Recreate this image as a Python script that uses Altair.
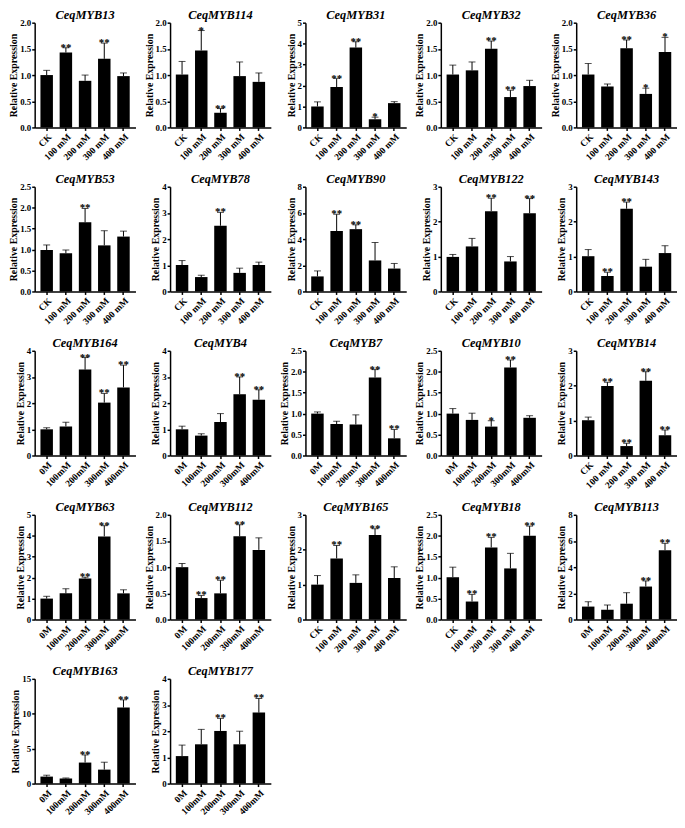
import altair as alt
import pandas as pd

labels_spaced = ["CK", "100 mM", "200 mM", "300 mM", "400 mM"]
labels_compact = ["0M", "100mM", "200mM", "300mM", "400mM"]

genes = ["CeqMYB13", "CeqMYB114", "CeqMYB31", "CeqMYB32", "CeqMYB36",
         "CeqMYB53", "CeqMYB78", "CeqMYB90", "CeqMYB122", "CeqMYB143",
         "CeqMYB164", "CeqMYB4", "CeqMYB7", "CeqMYB10", "CeqMYB14",
         "CeqMYB63", "CeqMYB112", "CeqMYB165", "CeqMYB18", "CeqMYB113",
         "CeqMYB163", "CeqMYB177"]
y_max = [2.0, 2.0, 5, 2.0, 2.0,
         2.5, 4, 8, 3, 3,
         4, 4, 2.5, 2.5, 3,
         5, 2.0, 3, 2.5, 8,
         15, 4]
y_step = [0.5, 0.5, 1, 0.5, 0.5,
          0.5, 1, 2, 1, 1,
          1, 1, 0.5, 0.5, 1,
          1, 0.5, 1, 0.5, 2,
          5, 1]
label_kind = ["s", "s", "s", "s", "s",
              "s", "s", "s", "s", "s",
              "c", "c", "c", "c", "s",
              "c", "c", "s", "s", "c",
              "c", "c"]

mean_MYB13 = [1.00, 1.43, 0.89, 1.31, 0.98]
sd_MYB13 = [0.09, 0.09, 0.11, 0.30, 0.06]
sig_MYB13 = ["", "**", "", "**", ""]

mean_MYB114 = [1.01, 1.47, 0.28, 0.98, 0.87]
sd_MYB114 = [0.25, 0.38, 0.08, 0.27, 0.17]
sig_MYB114 = ["", "*", "**", "", ""]

mean_MYB31 = [1.00, 1.93, 3.81, 0.39, 1.16]
sd_MYB31 = [0.22, 0.40, 0.28, 0.10, 0.07]
sig_MYB31 = ["", "**", "**", "*", ""]

mean_MYB32 = [1.01, 1.09, 1.50, 0.58, 0.79]
sd_MYB32 = [0.18, 0.16, 0.15, 0.13, 0.11]
sig_MYB32 = ["", "", "**", "**", ""]

mean_MYB36 = [1.01, 0.78, 1.51, 0.64, 1.44]
sd_MYB36 = [0.21, 0.05, 0.16, 0.11, 0.28]
sig_MYB36 = ["", "", "**", "*", "*"]

mean_MYB53 = [0.99, 0.91, 1.65, 1.10, 1.31]
sd_MYB53 = [0.12, 0.08, 0.33, 0.35, 0.13]
sig_MYB53 = ["", "", "**", "", ""]

mean_MYB78 = [1.01, 0.55, 2.51, 0.71, 1.01]
sd_MYB78 = [0.17, 0.07, 0.51, 0.18, 0.11]
sig_MYB78 = ["", "", "**", "", ""]

mean_MYB90 = [1.15, 4.61, 4.76, 2.37, 1.75]
sd_MYB90 = [0.42, 1.28, 0.33, 1.37, 0.39]
sig_MYB90 = ["", "**", "**", "", ""]

mean_MYB122 = [0.99, 1.29, 2.30, 0.86, 2.24]
sd_MYB122 = [0.07, 0.23, 0.37, 0.14, 0.42]
sig_MYB122 = ["", "", "**", "", "**"]

mean_MYB143 = [1.01, 0.44, 2.37, 0.71, 1.10]
sd_MYB143 = [0.19, 0.11, 0.19, 0.21, 0.21]
sig_MYB143 = ["", "**", "**", "", ""]

mean_MYB164 = [1.00, 1.11, 3.28, 2.02, 2.60]
sd_MYB164 = [0.06, 0.16, 0.46, 0.35, 0.85]
sig_MYB164 = ["", "", "**", "**", "**"]

mean_MYB4 = [1.00, 0.76, 1.28, 2.34, 2.13]
sd_MYB4 = [0.12, 0.07, 0.32, 0.66, 0.38]
sig_MYB4 = ["", "", "", "**", "**"]

mean_MYB7 = [1.00, 0.75, 0.74, 1.86, 0.41]
sd_MYB7 = [0.04, 0.07, 0.23, 0.19, 0.21]
sig_MYB7 = ["", "", "", "**", "**"]

mean_MYB10 = [1.00, 0.85, 0.69, 2.10, 0.90]
sd_MYB10 = [0.12, 0.16, 0.14, 0.18, 0.05]
sig_MYB10 = ["", "", "*", "**", ""]

mean_MYB14 = [1.01, 1.99, 0.27, 2.14, 0.58]
sd_MYB14 = [0.09, 0.11, 0.08, 0.26, 0.15]
sig_MYB14 = ["", "**", "**", "**", "**"]

mean_MYB63 = [1.00, 1.25, 1.96, 3.97, 1.25]
sd_MYB63 = [0.11, 0.22, 0.06, 0.51, 0.17]
sig_MYB63 = ["", "", "**", "**", ""]

mean_MYB112 = [1.00, 0.41, 0.50, 1.59, 1.33]
sd_MYB112 = [0.07, 0.05, 0.25, 0.22, 0.23]
sig_MYB112 = ["", "**", "**", "**", ""]

mean_MYB165 = [1.00, 1.75, 1.05, 2.42, 1.19]
sd_MYB165 = [0.26, 0.37, 0.23, 0.18, 0.32]
sig_MYB165 = ["", "**", "", "**", ""]

mean_MYB18 = [1.01, 0.43, 1.72, 1.22, 2.00]
sd_MYB18 = [0.24, 0.17, 0.24, 0.36, 0.23]
sig_MYB18 = ["", "**", "**", "", "**"]

mean_MYB113 = [0.99, 0.74, 1.21, 2.52, 5.30]
sd_MYB113 = [0.37, 0.37, 0.84, 0.43, 0.52]
sig_MYB113 = ["", "", "", "**", "**"]

mean_MYB163 = [1.00, 0.72, 3.01, 2.00, 10.89]
sd_MYB163 = [0.20, 0.09, 1.09, 1.06, 1.10]
sig_MYB163 = ["", "", "**", "", "**"]

mean_MYB177 = [1.05, 1.50, 2.01, 1.50, 2.71]
sd_MYB177 = [0.42, 0.57, 0.48, 0.50, 0.54]
sig_MYB177 = ["", "", "**", "", "**"]

means = [mean_MYB13, mean_MYB114, mean_MYB31, mean_MYB32, mean_MYB36,
         mean_MYB53, mean_MYB78, mean_MYB90, mean_MYB122, mean_MYB143,
         mean_MYB164, mean_MYB4, mean_MYB7, mean_MYB10, mean_MYB14,
         mean_MYB63, mean_MYB112, mean_MYB165, mean_MYB18, mean_MYB113,
         mean_MYB163, mean_MYB177]
sds = [sd_MYB13, sd_MYB114, sd_MYB31, sd_MYB32, sd_MYB36,
       sd_MYB53, sd_MYB78, sd_MYB90, sd_MYB122, sd_MYB143,
       sd_MYB164, sd_MYB4, sd_MYB7, sd_MYB10, sd_MYB14,
       sd_MYB63, sd_MYB112, sd_MYB165, sd_MYB18, sd_MYB113,
       sd_MYB163, sd_MYB177]
sigs = [sig_MYB13, sig_MYB114, sig_MYB31, sig_MYB32, sig_MYB36,
        sig_MYB53, sig_MYB78, sig_MYB90, sig_MYB122, sig_MYB143,
        sig_MYB164, sig_MYB4, sig_MYB7, sig_MYB10, sig_MYB14,
        sig_MYB63, sig_MYB112, sig_MYB165, sig_MYB18, sig_MYB113,
        sig_MYB163, sig_MYB177]

FONT = "Liberation Serif"
W, H = 102, 106

panels = []
for i, g in enumerate(genes):
    labs = labels_spaced if label_kind[i] == "s" else labels_compact
    df = pd.DataFrame({
        "cond": labs,
        "mean": means[i],
        "top": [m + s for m, s in zip(means[i], sds[i])],
        "sig": sigs[i],
    })
    n = int(round(y_max[i] / y_step[i]))
    ticks = [round(k * y_step[i], 2) for k in range(n + 1)]
    fmt = ".1f" if y_step[i] < 1 else "d"
    xaxis = alt.Axis(title=None, labelAngle=-45, labelFontSize=9.5,
                     tickSize=3, labelPadding=1, labelFont=FONT,
                     labelFontWeight="bold", labelColor="black")
    xscale = alt.Scale(paddingInner=0.35, paddingOuter=0.3)
    x = alt.X("cond:N", sort=labs, scale=xscale, axis=xaxis)
    yscale = alt.Scale(domain=[0, y_max[i]], nice=False, zero=True)
    yaxis = alt.Axis(values=ticks, format=fmt, tickCount=len(ticks),
                     title="Relative Expression", titleFontSize=10,
                     labelFontSize=9, tickSize=3, labelPadding=1,
                     titlePadding=1, labelOverlap=False,
                     labelFont=FONT, labelFontWeight="bold", labelColor="black",
                     titleFont=FONT, titleFontWeight="bold", titleColor="black")
    base = alt.Chart(df)
    bars = base.mark_bar(color="black").encode(
        x=x, y=alt.Y("mean:Q", scale=yscale, axis=yaxis))
    rule = base.mark_rule(color="black", strokeWidth=1).encode(
        x=x, y=alt.Y("mean:Q", scale=yscale, axis=yaxis), y2="top:Q")
    cap = base.mark_tick(color="black", thickness=1, size=7).encode(
        x=x, y=alt.Y("top:Q", scale=yscale, axis=yaxis))
    txt = base.mark_text(font=FONT, fontWeight="bold", fontSize=11,
                         baseline="alphabetic", dy=3, color="black").encode(
        x=x, y=alt.Y("top:Q", scale=yscale, axis=yaxis), text="sig:N")
    panel = alt.layer(bars, rule, cap, txt).properties(
        width=W, height=H,
        title=alt.TitleParams(text=g, font=FONT, fontStyle="italic",
                              fontWeight="bold", fontSize=12.5, frame="group",
                              anchor="middle", offset=-3, color="black"),
    )
    panels.append(panel)

chart = alt.concat(*panels, columns=5, spacing={"row": 11, "column": 8}).properties(
    padding={"left": 0, "top": -4, "right": 0, "bottom": 0},
    background="white",
).configure_axis(
    grid=False,
    domainColor="black", domainWidth=1.5,
    tickColor="black", tickWidth=1.5,
    labelFont=FONT, labelFontWeight="bold", labelColor="black",
    titleFont=FONT, titleFontWeight="bold", titleColor="black",
).configure_view(stroke=None)

chart.save("out.html", embed_options={"renderer": "svg", "actions": False})
